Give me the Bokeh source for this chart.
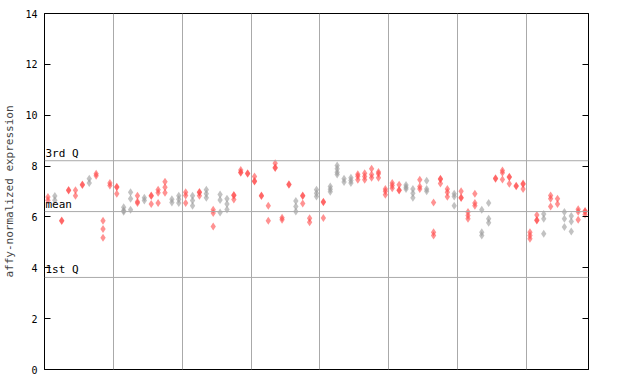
from bokeh.plotting import figure
from bokeh.models import Range1d, LinearAxis, FixedTicker, Span, Label, ColumnDataSource, CustomJSTickFormatter
from bokeh.embed import file_html
from bokeh.resources import INLINE

# ---- data ----
group_values = [
    [6.78, 6.66], [6.82, 6.66], [5.86, 5.84], [7.04, 7.06], [7.05, 6.83],
    [7.26, 7.28], [7.50, 7.33], [7.62, 7.70], [5.85, 5.53, 5.18], [7.24, 7.33],
    [7.17, 7.19, 6.91], [6.38, 6.25, 6.20], [6.97, 6.71, 6.28], [6.83, 6.60, 6.55], [6.75, 6.65],
    [6.82, 6.84, 6.51], [7.07, 6.95, 6.55], [7.38, 7.17, 6.95], [6.70, 6.57], [6.83, 6.70, 6.55],
    [6.97, 6.84, 6.55], [6.83, 6.65, 6.44], [6.96, 6.98, 6.83], [7.07, 6.91, 6.75], [6.28, 6.15, 5.62],
    [6.88, 6.67, 6.17], [6.71, 6.51, 6.29], [6.84, 6.86, 6.69], [7.76, 7.74, 7.85], [7.70, 7.72],
    [7.59, 7.39, 7.41], [6.82, 6.84], [6.44, 5.85], [8.11, 7.92, 7.94], [5.97, 5.89],
    [7.27, 7.29], [6.63, 6.41, 6.21], [6.82, 6.84, 6.53], [5.95, 5.79], [7.07, 6.93, 6.80],
    [6.58, 6.60, 5.96], [7.20, 7.09, 6.99], [8.02, 7.89, 7.76, 7.67], [7.50, 7.37], [7.54, 7.43, 7.33],
    [7.68, 7.60, 7.46], [7.72, 7.59, 7.46], [7.89, 7.67, 7.54], [7.77, 7.70, 7.54], [7.10, 7.01, 6.87],
    [7.33, 7.24, 7.13], [7.27, 7.04, 7.06], [7.26, 7.17, 7.10], [7.10, 6.93, 6.75], [7.46, 7.20, 7.10],
    [7.42, 7.10, 7.01], [6.57, 5.40, 5.27], [7.48, 7.50, 7.31], [7.10, 6.97, 6.79], [6.91, 6.80, 6.44],
    [7.01, 6.74, 6.76], [6.19, 6.06, 5.93], [6.91, 6.55, 6.44], [6.28, 5.40, 5.27], [6.55, 5.93, 5.77],
    [7.50, 7.52], [7.83, 7.74, 7.47], [7.56, 7.58, 7.30], [7.21, 7.23], [7.29, 7.31, 7.10],
    [5.40, 5.27, 5.14], [6.08, 5.86, 5.88], [6.12, 5.93, 5.34], [6.84, 6.71, 6.41], [6.71, 6.51],
    [6.19, 5.93, 5.60], [6.04, 5.82, 5.43], [6.30, 6.20, 5.89], [6.21, 6.23, 6.10],
]
group_colors = list(
    "rgrrrrgrrr"
    "rggrgrrrgg"
    "rgrgrggrrr"
    "rrrrrrgrrg"
    "rggggrrrrr"
    "rrggrgrrrg"
    "rrrggrrrrr"
    "rrgrrggrr"
)
quartile_values = [8.21, 6.21, 3.62]
quartile_labels = ["3rd Q", "mean", "1st Q"]
y_ticks = [0, 2, 4, 6, 8, 10, 12, 14]
x_grid = [9.5, 19.5, 29.5, 39.5, 49.5, 59.5, 69.5]

RED = "#ff4a4a"
GREY = "#9a9a9a"

xs, ys, cs = [], [], []
for i, vals in enumerate(group_values):
    for v in vals:
        xs.append(i)
        ys.append(v)
        cs.append(RED if group_colors[i] == "r" else GREY)
src = ColumnDataSource(dict(x=xs, y=ys, c=cs))

FONT = "DejaVu Sans Mono"

p = figure(width=640, height=384, output_backend="svg", toolbar_location=None,
           x_range=Range1d(-0.5, 78.5), y_range=Range1d(0, 14),
           min_border_left=44, min_border_right=52, min_border_top=13, min_border_bottom=15)
p.background_fill_color = "white"
p.border_fill_color = "white"
p.outline_line_color = "black"
p.outline_line_width = 1

p.xaxis.visible = False
p.xgrid.ticker = FixedTicker(ticks=x_grid)
p.xgrid.grid_line_color = "#aaaaaa"
p.xgrid.grid_line_width = 1
p.ygrid.visible = False

ya = p.yaxis[0]
ya.ticker = FixedTicker(ticks=y_ticks)
ya.major_tick_in = 6
ya.major_tick_out = 0
ya.minor_tick_line_color = None
ya.major_label_standoff = 7
ya.major_label_text_font = FONT
ya.major_label_text_font_size = "10px"
ya.major_label_text_color = "black"
ya.axis_line_color = "black"
ya.axis_label = "affy-normalized expression"
ya.axis_label_text_font = FONT
ya.axis_label_text_font_size = "11px"
ya.axis_label_text_font_style = "normal"
ya.axis_label_standoff = 6

ra = LinearAxis(ticker=FixedTicker(ticks=y_ticks),
                formatter=CustomJSTickFormatter(code="return ''"))
ra.major_tick_in = 6
ra.major_tick_out = 0
ra.minor_tick_line_color = None
ra.axis_line_color = "black"
ra.major_label_standoff = 0
p.add_layout(ra, "right")

for v, t in zip(quartile_values, quartile_labels):
    p.add_layout(Span(location=v, dimension="width", line_color="#aaaaaa", line_width=1))
    p.add_layout(Label(x=-0.5, y=v, text=t, x_offset=1, y_offset=1,
                       text_font=FONT, text_font_size="11px", text_color="black",
                       text_baseline="bottom", text_align="left"))

p.scatter("x", "y", source=src, marker="diamond", size=8,
          fill_color="c", fill_alpha=0.6, line_color=None)

open("out.html", "w").write(file_html(p, INLINE))
